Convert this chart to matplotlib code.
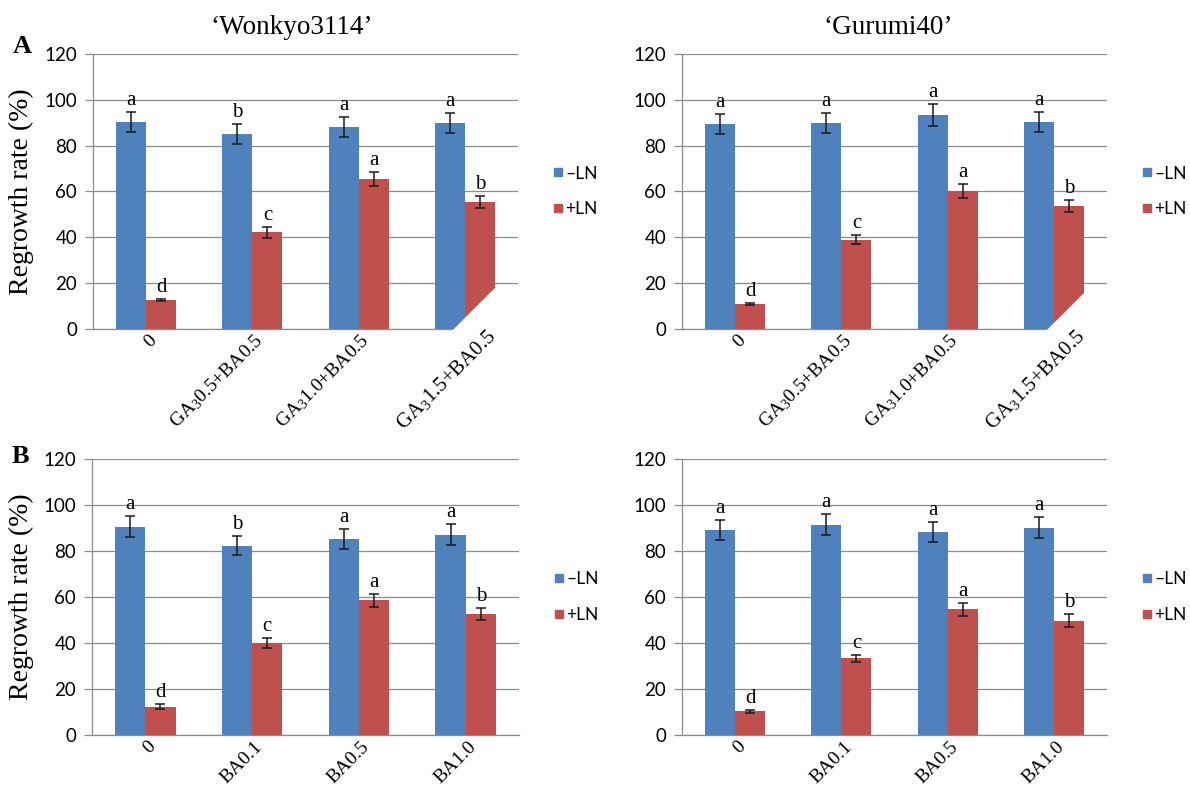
import matplotlib
matplotlib.use('Agg')
import matplotlib.pyplot as plt
import matplotlib.transforms as mtransforms
from matplotlib.lines import Line2D
from matplotlib.patches import Polygon
import numpy as np

plt.rcParams['mathtext.fontset'] = 'custom'
plt.rcParams['mathtext.rm'] = 'Liberation Serif'
plt.rcParams['mathtext.it'] = 'Liberation Serif:italic'
plt.rcParams['mathtext.bf'] = 'Liberation Serif:bold'

SERIF = 'Liberation Serif'
SANS = 'Lato'
BLUE = '#4F81BD'
RED = '#C0504D'
GRID = '#8C8C8C'

# treatments
conds_A = ['0', 'GA$_3$0.5+BA0.5', 'GA$_3$1.0+BA0.5', 'GA$_3$1.5+BA0.5']
conds_B = ['0', 'BA0.1', 'BA0.5', 'BA1.0']

# A: Wonkyo3114
wonkyo_A_minus = [90.5, 85.1, 88.0, 89.9]
wonkyo_A_minus_err = [4.4, 4.3, 4.4, 4.4]
wonkyo_A_plus = [12.8, 42.2, 65.6, 55.4]
wonkyo_A_plus_err = [0.5, 2.3, 3.1, 2.8]
wonkyo_A_minus_let = ['a', 'b', 'a', 'a']
wonkyo_A_plus_let = ['d', 'c', 'a', 'b']

# A: Gurumi40
gurumi_A_minus = [89.4, 90.0, 93.4, 90.4]
gurumi_A_minus_err = [4.5, 4.4, 4.7, 4.4]
gurumi_A_plus = [11.0, 38.9, 60.1, 53.8]
gurumi_A_plus_err = [0.5, 2.0, 3.0, 2.7]
gurumi_A_minus_let = ['a', 'a', 'a', 'a']
gurumi_A_plus_let = ['d', 'c', 'a', 'b']

# B: Wonkyo3114
wonkyo_B_minus = [90.6, 82.3, 85.2, 87.1]
wonkyo_B_minus_err = [4.6, 4.2, 4.4, 4.5]
wonkyo_B_plus = [12.3, 39.9, 58.6, 52.6]
wonkyo_B_plus_err = [1.0, 2.1, 2.9, 2.75]
wonkyo_B_minus_let = ['a', 'b', 'a', 'a']
wonkyo_B_plus_let = ['d', 'c', 'a', 'b']

# B: Gurumi40
gurumi_B_minus = [89.1, 91.4, 88.1, 90.1]
gurumi_B_minus_err = [4.4, 4.6, 4.4, 4.6]
gurumi_B_plus = [10.3, 33.3, 54.6, 49.7]
gurumi_B_plus_err = [0.7, 1.7, 2.8, 2.8]
gurumi_B_minus_let = ['a', 'a', 'a', 'a']
gurumi_B_plus_let = ['d', 'c', 'a', 'b']

fig = plt.figure(figsize=(11.9, 7.86), dpi=100)
W, H = 1190, 786


def px_shift(trans, dx, dy):
    return trans + mtransforms.ScaledTranslation(dx / 100, dy / 100, fig.dpi_scale_trans)


def draw_panel(ax, labels, minus, minus_err, plus, plus_err, minus_let, plus_let,
               big_last=False, cover=None):
    x = np.arange(len(labels))
    w = 0.283
    ax.bar(x - w / 2, minus, w, color=BLUE, zorder=1)
    ax.bar(x + w / 2, plus, w, color=RED, zorder=1)
    for xs, ys, es in ((x - w / 2, minus, minus_err), (x + w / 2, plus, plus_err)):
        ax.errorbar(xs, ys, yerr=es, fmt='none', ecolor='#1a1a1a', elinewidth=1.1,
                    capsize=3.4, capthick=1.1, zorder=2)

    let_trans = px_shift(ax.transData, 0, 7)
    for xs, ys, es, lets in ((x - w / 2, minus, minus_err, minus_let),
                             (x + w / 2, plus, plus_err, plus_let)):
        for xi, yi, ei, s in zip(xs, ys, es, lets):
            ax.text(xi, yi + ei, s, transform=let_trans, ha='center', va='baseline',
                    fontsize=15, family=SERIF, zorder=4)

    ax.set_xlim(-0.5, len(labels) - 0.5)
    ax.set_ylim(0, 120)
    ax.set_yticks(range(0, 121, 20))
    ax.set_axisbelow(True)
    ax.yaxis.grid(True, color=GRID, lw=0.9)
    for s in ['top', 'right']:
        ax.spines[s].set_visible(False)
    for s in ['left', 'bottom']:
        ax.spines[s].set_color(GRID)
        ax.spines[s].set_linewidth(0.9)
    ax.tick_params(axis='y', length=5.5, width=0.9, color=GRID, pad=6, labelsize=13.5)
    for lab in ax.get_yticklabels():
        lab.set_family(SANS)
    ax.tick_params(axis='x', length=0, labelbottom=False)

    xt = ax.get_xaxis_transform()
    for i, s in enumerate(labels):
        if big_last and i == len(labels) - 1:
            dx, dy, fs = 28, -4, 15
        else:
            dx, dy, fs = 8, -9, 14
        ax.text(i, 0, s, transform=px_shift(xt, dx, dy), rotation=45,
                rotation_mode='anchor', ha='right', va='center', fontsize=fs,
                family=SERIF, zorder=5, clip_on=False)

    # white label box of the last category hides the plot corner
    if cover is not None:
        cx, d = cover
        corner = mtransforms.ScaledTranslation(cx, 0, ax.transAxes)
        verts = [(-14, -14), (d, d), (d + 48, d - 48), (34, -62)]
        ax.add_patch(Polygon(verts, closed=True, transform=mtransforms.IdentityTransform() + corner,
                             facecolor='white', edgecolor='none', zorder=3, clip_on=False))

    handles = [Line2D([], [], ls='none', marker='s', ms=6, mfc=BLUE, mec=BLUE, label='\u2013LN'),
               Line2D([], [], ls='none', marker='s', ms=6, mfc=RED, mec=RED, label='+LN')]
    ax.legend(handles=handles, loc='center left', bbox_to_anchor=(1.085, 0.5), frameon=False,
              prop={'family': SANS, 'size': 12.5}, handlelength=0.45, handletextpad=0.2,
              labelspacing=1.15, borderaxespad=0, borderpad=0)


axTL = fig.add_axes([93 / W, 1 - 329 / H, 425 / W, 275 / H])
axTR = fig.add_axes([682 / W, 1 - 329 / H, 425 / W, 275 / H])
axBL = fig.add_axes([92 / W, 1 - 735 / H, 427 / W, 276 / H])
axBR = fig.add_axes([682 / W, 1 - 735 / H, 425 / W, 276 / H])

draw_panel(axTL, conds_A, wonkyo_A_minus, wonkyo_A_minus_err, wonkyo_A_plus, wonkyo_A_plus_err,
           wonkyo_A_minus_let, wonkyo_A_plus_let, big_last=True, cover=(0.849, 43))
draw_panel(axTR, conds_A, gurumi_A_minus, gurumi_A_minus_err, gurumi_A_plus, gurumi_A_plus_err,
           gurumi_A_minus_let, gurumi_A_plus_let, big_last=True, cover=(0.861, 36))
draw_panel(axBL, conds_B, wonkyo_B_minus, wonkyo_B_minus_err, wonkyo_B_plus, wonkyo_B_plus_err,
           wonkyo_B_minus_let, wonkyo_B_plus_let)
draw_panel(axBR, conds_B, gurumi_B_minus, gurumi_B_minus_err, gurumi_B_plus, gurumi_B_plus_err,
           gurumi_B_minus_let, gurumi_B_plus_let)

fig.text(292 / W, 1 - 27 / H, '\u2018Wonkyo3114\u2019', ha='center', va='center',
         family=SERIF, fontsize=19.5)
fig.text(888 / W, 1 - 27 / H, '\u2018Gurumi40\u2019', ha='center', va='center',
         family=SERIF, fontsize=19.5)

fig.text(21 / W, 1 - 191.5 / H, 'Regrowth rate (%)', rotation=90, ha='center', va='center',
         family=SERIF, fontsize=20)
fig.text(21 / W, 1 - 597 / H, 'Regrowth rate (%)', rotation=90, ha='center', va='center',
         family=SERIF, fontsize=20)

fig.text(13 / W, 1 - 53 / H, 'A', family=SERIF, fontweight='bold', fontsize=19, va='baseline')
fig.text(12 / W, 1 - 463 / H, 'B', family=SERIF, fontweight='bold', fontsize=19, va='baseline')

fig.savefig('out.png', dpi=100)
